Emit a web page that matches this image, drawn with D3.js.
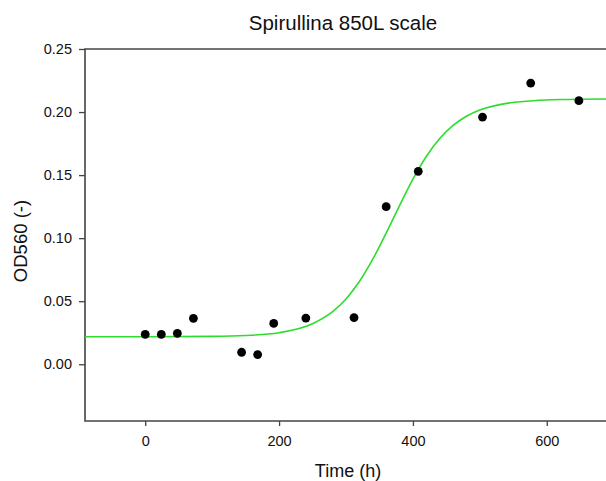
<!DOCTYPE html>
<html lang="en">
<head>
<meta charset="utf-8">
<title>Spirullina 850L scale</title>
<script src="https://cdn.jsdelivr.net/npm/d3@7/dist/d3.min.js"></script>
<style>
  body { margin: 0; background: #fff; }
  text { font-family: "Liberation Sans", Arial, sans-serif; fill: #111; }
</style>
</head>
<body>
<script>
// measured samples
var timeH = [0, 24, 48, 72, 144, 168, 192, 240, 312, 360, 408, 504, 576, 648];
var od560 = [0.0237, 0.0237, 0.0245, 0.0364, 0.0095, 0.0077, 0.0324, 0.0366, 0.037, 0.125, 0.153, 0.196, 0.223, 0.209];

// fitted curve
var fitT  = [-90, 0, 100, 150, 200, 250, 280, 300, 320, 340, 360, 380, 400, 420, 440, 460, 480, 500, 540, 580, 620, 700];
var fitOD = [0.0218, 0.0218, 0.0221, 0.0228, 0.0250, 0.0321, 0.0417, 0.0518, 0.0656, 0.0833, 0.104, 0.1258, 0.1468, 0.1648, 0.179, 0.1894, 0.1967, 0.2016, 0.2069, 0.209, 0.2099, 0.2104];

var xTicks = [0, 200, 400, 600];
var yTicks = [0, 0.05, 0.10, 0.15, 0.20, 0.25];

var W = 606, H = 481;
var padL = 85, padR = 607, padT = 49, padB = 421;

var svg = d3.select("body").append("svg").attr("width", W).attr("height", H);

var x = d3.scaleLinear().domain([-90, 690]).range([padL, padR]);
var y = d3.scaleLinear().domain([-0.045, 0.25]).range([padB, padT]);

var axisColor = "#444";

// x axis
var gx = svg.append("g").attr("transform", "translate(0," + padB + ")")
  .call(d3.axisBottom(x).tickValues(xTicks).tickSize(5).tickPadding(10).tickFormat(d3.format("d")));
// y axis
var gy = svg.append("g").attr("transform", "translate(" + padL + ",0)")
  .call(d3.axisLeft(y).tickValues(yTicks).tickSize(6).tickPadding(7).tickFormat(d3.format(".2f")));

[gx, gy].forEach(function(g) {
  g.select(".domain").remove();
  g.selectAll(".tick line").attr("stroke", axisColor).attr("stroke-width", 1.3);
  g.selectAll(".tick text").style("font-size", "14.5px").style("font-family", "'Liberation Sans', Arial, sans-serif").attr("fill", "#111");
});

// frame
svg.append("path")
  .attr("d", "M" + padR + "," + padT + "H" + padL + "V" + padB + "H" + padR)
  .attr("fill", "none").attr("stroke", axisColor).attr("stroke-width", 1.6);

// fitted line
var line = d3.line()
  .x(function(d, i) { return x(fitT[i]); })
  .y(function(d) { return y(d); })
  .curve(d3.curveMonotoneX);

svg.append("path")
  .datum(fitOD)
  .attr("d", line)
  .attr("fill", "none")
  .attr("stroke", "#2edc2e")
  .attr("stroke-width", 1.6);

// data points
svg.selectAll("circle.pt")
  .data(od560)
  .enter().append("circle")
  .attr("class", "pt")
  .attr("cx", function(d, i) { return x(timeH[i]); })
  .attr("cy", function(d) { return y(d); })
  .attr("r", 4.4)
  .attr("fill", "#000");

// titles
svg.append("text").attr("x", 343).attr("y", 30).attr("text-anchor", "middle")
  .style("font-size", "20.5px").text("Spirullina 850L scale");

svg.append("text").attr("x", 348).attr("y", 477).attr("text-anchor", "middle")
  .style("font-size", "18px").text("Time (h)");

svg.append("text").attr("transform", "translate(27,241) rotate(-90)").attr("text-anchor", "middle")
  .style("font-size", "18.5px").text("OD560 (-)");
</script>
</body>
</html>
